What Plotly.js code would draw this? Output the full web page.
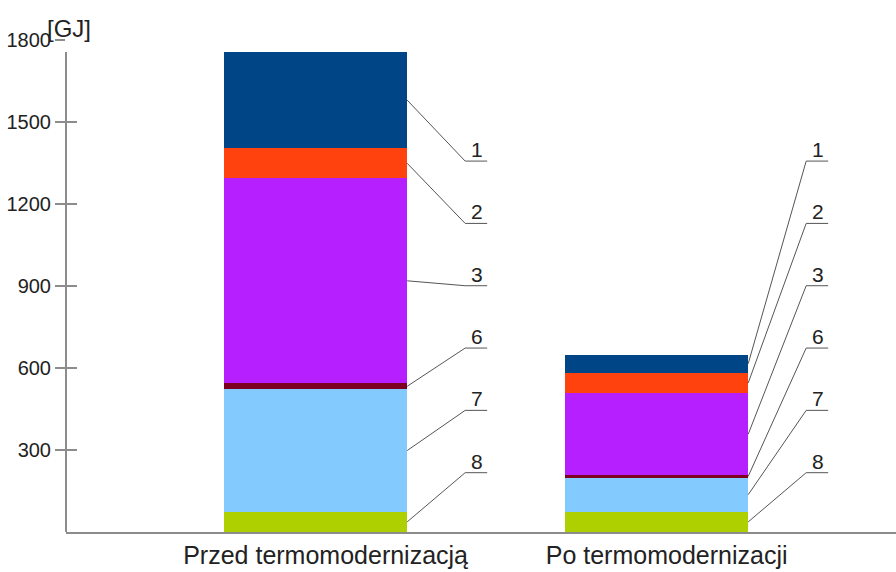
<!DOCTYPE html>
<html><head><meta charset="utf-8">
<script src="https://cdn.plot.ly/plotly-3.0.1.min.js"></script>
<style>html,body{margin:0;padding:0;background:#fff}</style>
</head><body><div id="chart" style="width:896px;height:572px"></div>
<script>
// ---- data ----
const categories = ['Przed termomodernizacją', 'Po termomodernizacji'];
const seriesNames = ['8', '7', '6', '3', '2', '1'];          // bottom -> top
const s8 = [74, 74];
const s7 = [448, 125];
const s6 = [22, 9];
const s3 = [750, 299];
const s2 = [110, 76];
const s1 = [352, 65];
const seriesColors = ['#aecf00', '#83caff', '#7e0021', '#b61fff', '#ff420e', '#004586'];
const yTicks = [300, 600, 900, 1200, 1500, 1800];
const unitLabel = '[GJ]';

// ---- layout constants ----
const seriesValues = [s8, s7, s6, s3, s2, s1];
const xPos = categories.map((_, i) => i);
const BAR_W = 0.537;
const PX = 1 / 341;               // x units per pixel
const LEVEL_TOP = 1357, LEVEL_STEP = 228;
const FONT = 'Liberation Sans, Arial, sans-serif';
const AXIS_COL = '#8c8c8c';

const traces = seriesValues.map((vals, j) => ({
  type: 'bar', x: xPos, y: vals, name: seriesNames[j], width: BAR_W,
  marker: {color: seriesColors[j], line: {width: 0}}, hoverinfo: 'y+name'
}));
traces.push({type: 'scatter', x: [0], y: [0], yaxis: 'y2', mode: 'markers',
  marker: {opacity: 0}, hoverinfo: 'skip', showlegend: false});

const shapes = [];
const annotations = [];
let maxTotal = 0;
xPos.forEach((xc, c) => {
  let base = 0;
  const edge = xc + BAR_W / 2;
  const bend = edge + 58 * PX;
  const end = bend + 22 * PX;
  seriesValues.forEach((vals, j) => {
    const v = vals[c];
    const mid = base + v / 2;
    base += v;
    const level = LEVEL_TOP - (seriesValues.length - 1 - j) * LEVEL_STEP;
    const ln = {color: '#555', width: 1};
    shapes.push({type: 'line', xref: 'x', yref: 'y', x0: edge, y0: mid, x1: bend, y1: level, line: ln});
    shapes.push({type: 'line', xref: 'x', yref: 'y', x0: bend, y0: level, x1: end, y1: level, line: ln});
    annotations.push({xref: 'x', yref: 'y', x: bend + 12 * PX, y: level, text: seriesNames[j],
      showarrow: false, xanchor: 'center', yanchor: 'bottom', yshift: -2,
      font: {family: FONT, size: 21, color: '#222'}});
  });
  maxTotal = Math.max(maxTotal, base);
});
// y axis line up to the highest stack
shapes.push({type: 'line', xref: 'paper', yref: 'y', x0: 0, x1: 0, y0: 0, y1: maxTotal,
  line: {color: AXIS_COL, width: 2}});
annotations.push({xref: 'paper', yref: 'paper', x: 0.004, y: 1, yanchor: 'bottom', xanchor: 'center',
  yshift: -4, text: unitLabel, showarrow: false, font: {family: FONT, size: 24, color: '#222'}});

const layout = {
  width: 896, height: 572,
  margin: {l: 66, r: 0, t: 40, b: 40},
  paper_bgcolor: '#fff', plot_bgcolor: '#fff',
  barmode: 'stack', showlegend: false,
  font: {family: FONT, color: '#222'},
  xaxis: {range: [-0.732, 1.702], tickvals: xPos, ticktext: categories, showgrid: false, zeroline: false,
    showline: true, linecolor: AXIS_COL, linewidth: 2, ticks: '', ticklabelshift: 10,
    tickfont: {size: 25, color: '#222'}},
  yaxis: {range: [0, 1800], tickvals: yTicks, showgrid: false, zeroline: false, showline: false,
    ticks: 'outside', ticklen: 10, tickwidth: 1.5, tickcolor: AXIS_COL,
    tickfont: {size: 20, color: '#222'}},
  yaxis2: {range: [0, 1800], overlaying: 'y', side: 'left', tickvals: yTicks, showticklabels: false,
    showgrid: false, zeroline: false, showline: false, ticks: 'inside', ticklen: 11, tickwidth: 1.5, tickcolor: AXIS_COL},
  shapes: shapes, annotations: annotations
};
Plotly.newPlot('chart', traces, layout, {displayModeBar: false, staticPlot: true});
</script></body></html>
